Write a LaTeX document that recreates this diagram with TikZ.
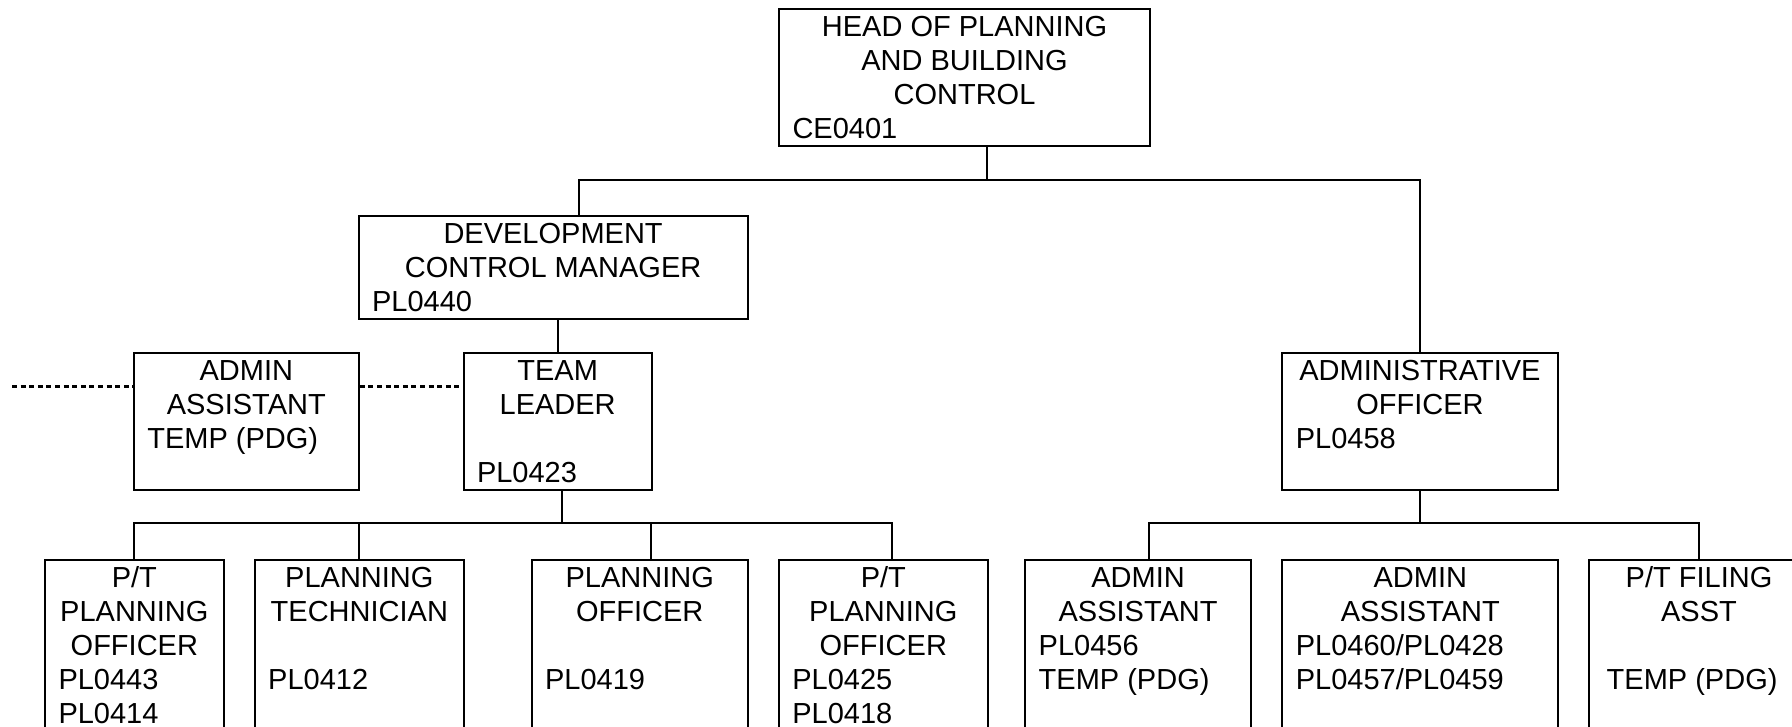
\documentclass[tikz,border=0pt]{standalone}
\usepackage{fontspec}
\setmainfont{Liberation Sans}
\usepackage{tikz}

\newcommand{\boxstrut}{\rule[-3.25pt]{0pt}{17pt}}
\newcommand{\ctr}[1]{\hbox to\hsize{\hss\boxstrut#1\hss}}
\newcommand{\lft}[2][6.75pt]{\hbox to\hsize{\hskip#1\boxstrut#2\hss}}
\newcommand{\postbox}[3]{\parbox[t][#2][t]{#1}{\fontsize{14.5pt}{17pt}\selectfont#3}}

\begin{document}
\begin{tikzpicture}[x=0.5pt,y=-0.5pt,
    post/.style={draw,line width=1pt,inner sep=0pt,anchor=north west},
    link/.style={line width=1pt},
    dots/.style={line width=1.3pt,dash pattern=on 2.5pt off 1.8pt}]
    \useasboundingbox (0,0) rectangle (1792,727);
    \clip (0,0) rectangle (1792,727);

    \node[post] (head) at (778,8) {\postbox{185.5pt}{68.5pt}{\ctr{HEAD OF PLANNING}\ctr{AND BUILDING}\ctr{CONTROL}\lft{CE0401}}};
    \node[post] (dcm) at (357.6,215) {\postbox{194.5pt}{51.35pt}{\ctr{DEVELOPMENT}\ctr{CONTROL MANAGER}\lft{PL0440}}};
    \node[post] (aatemp) at (132.8,352) {\postbox{112.5pt}{68.35pt}{\ctr{ADMIN}\ctr{ASSISTANT}\lft{TEMP (PDG)}}};
    \node[post] (tl) at (462.5,352) {\postbox{94.15pt}{68.35pt}{\ctr{TEAM}\ctr{LEADER}\lft{}\lft{PL0423}}};
    \node[post] (ao) at (1281.3,352) {\postbox{137.65pt}{68.35pt}{\ctr{ADMINISTRATIVE}\ctr{OFFICER}\lft{PL0458}}};

    \node[post] (ptpoa) at (44,559) {\postbox{89.35pt}{100pt}{\ctr{P/T}\ctr{PLANNING}\ctr{OFFICER}\lft{PL0443}\lft{PL0414}}};
    \node[post] (tech) at (253.7,559) {\postbox{104.65pt}{100pt}{\ctr{PLANNING}\ctr{TECHNICIAN}\lft{}\lft{PL0412}}};
    \node[post] (po) at (530.6,559) {\postbox{108.1pt}{100pt}{\ctr{PLANNING}\ctr{OFFICER}\lft{}\lft{PL0419}}};
    \node[post] (ptpob) at (777.8,559) {\postbox{104.5pt}{100pt}{\ctr{P/T}\ctr{PLANNING}\ctr{OFFICER}\lft{PL0425}\lft{PL0418}}};
    \node[post] (aaa) at (1024.2,559) {\postbox{112.9pt}{100pt}{\ctr{ADMIN}\ctr{ASSISTANT}\lft{PL0456}\lft{TEMP (PDG)}}};
    \node[post] (aab) at (1281.3,559) {\postbox{138pt}{100pt}{\ctr{ADMIN}\ctr{ASSISTANT}\lft{PL0460/PL0428}\lft{PL0457/PL0459}}};
    \node[post] (filing) at (1588,559) {\postbox{110pt}{100pt}{\ctr{P/T FILING}\ctr{ASST}\lft{}\lft[8.85pt]{TEMP (PDG)}}};

    \coordinate (hj) at (986.5,180);
    \coordinate (dcmin) at (578.6,215);
    \draw[link] (head.south -| hj) -- (hj);
    \draw[link] (dcmin) |- (hj) -| (ao.north);
    \draw[link] (dcm.south -| tl.north) -- (tl.north);

    \coordinate (tlj) at (562,523.3);
    \coordinate (poin) at (651.2,559);
    \coordinate (ptpobin) at (892.3,559);
    \draw[link] (tl.south -| tlj) -- (tlj);
    \draw[link] (ptpoa.north) |- (ptpobin |- tlj) -- (ptpobin);
    \draw[link] (tech.north) -- (tech.north |- tlj);
    \draw[link] (poin) -- (poin |- tlj);

    \coordinate (aoj) at (1419,523.3);
    \coordinate (aaain) at (1149,559);
    \draw[link] (ao.south) -- (ao.south |- aoj);
    \draw[link] (aaain) |- (filing.north |- aoj) -- (filing.north);

    \coordinate (dotl) at (12,386.5);
    \draw[dots] (dotl) -- (aatemp.west |- dotl);
    \draw[dots] (aatemp.east |- dotl) -- (tl.west |- dotl);
\end{tikzpicture}
\end{document}
